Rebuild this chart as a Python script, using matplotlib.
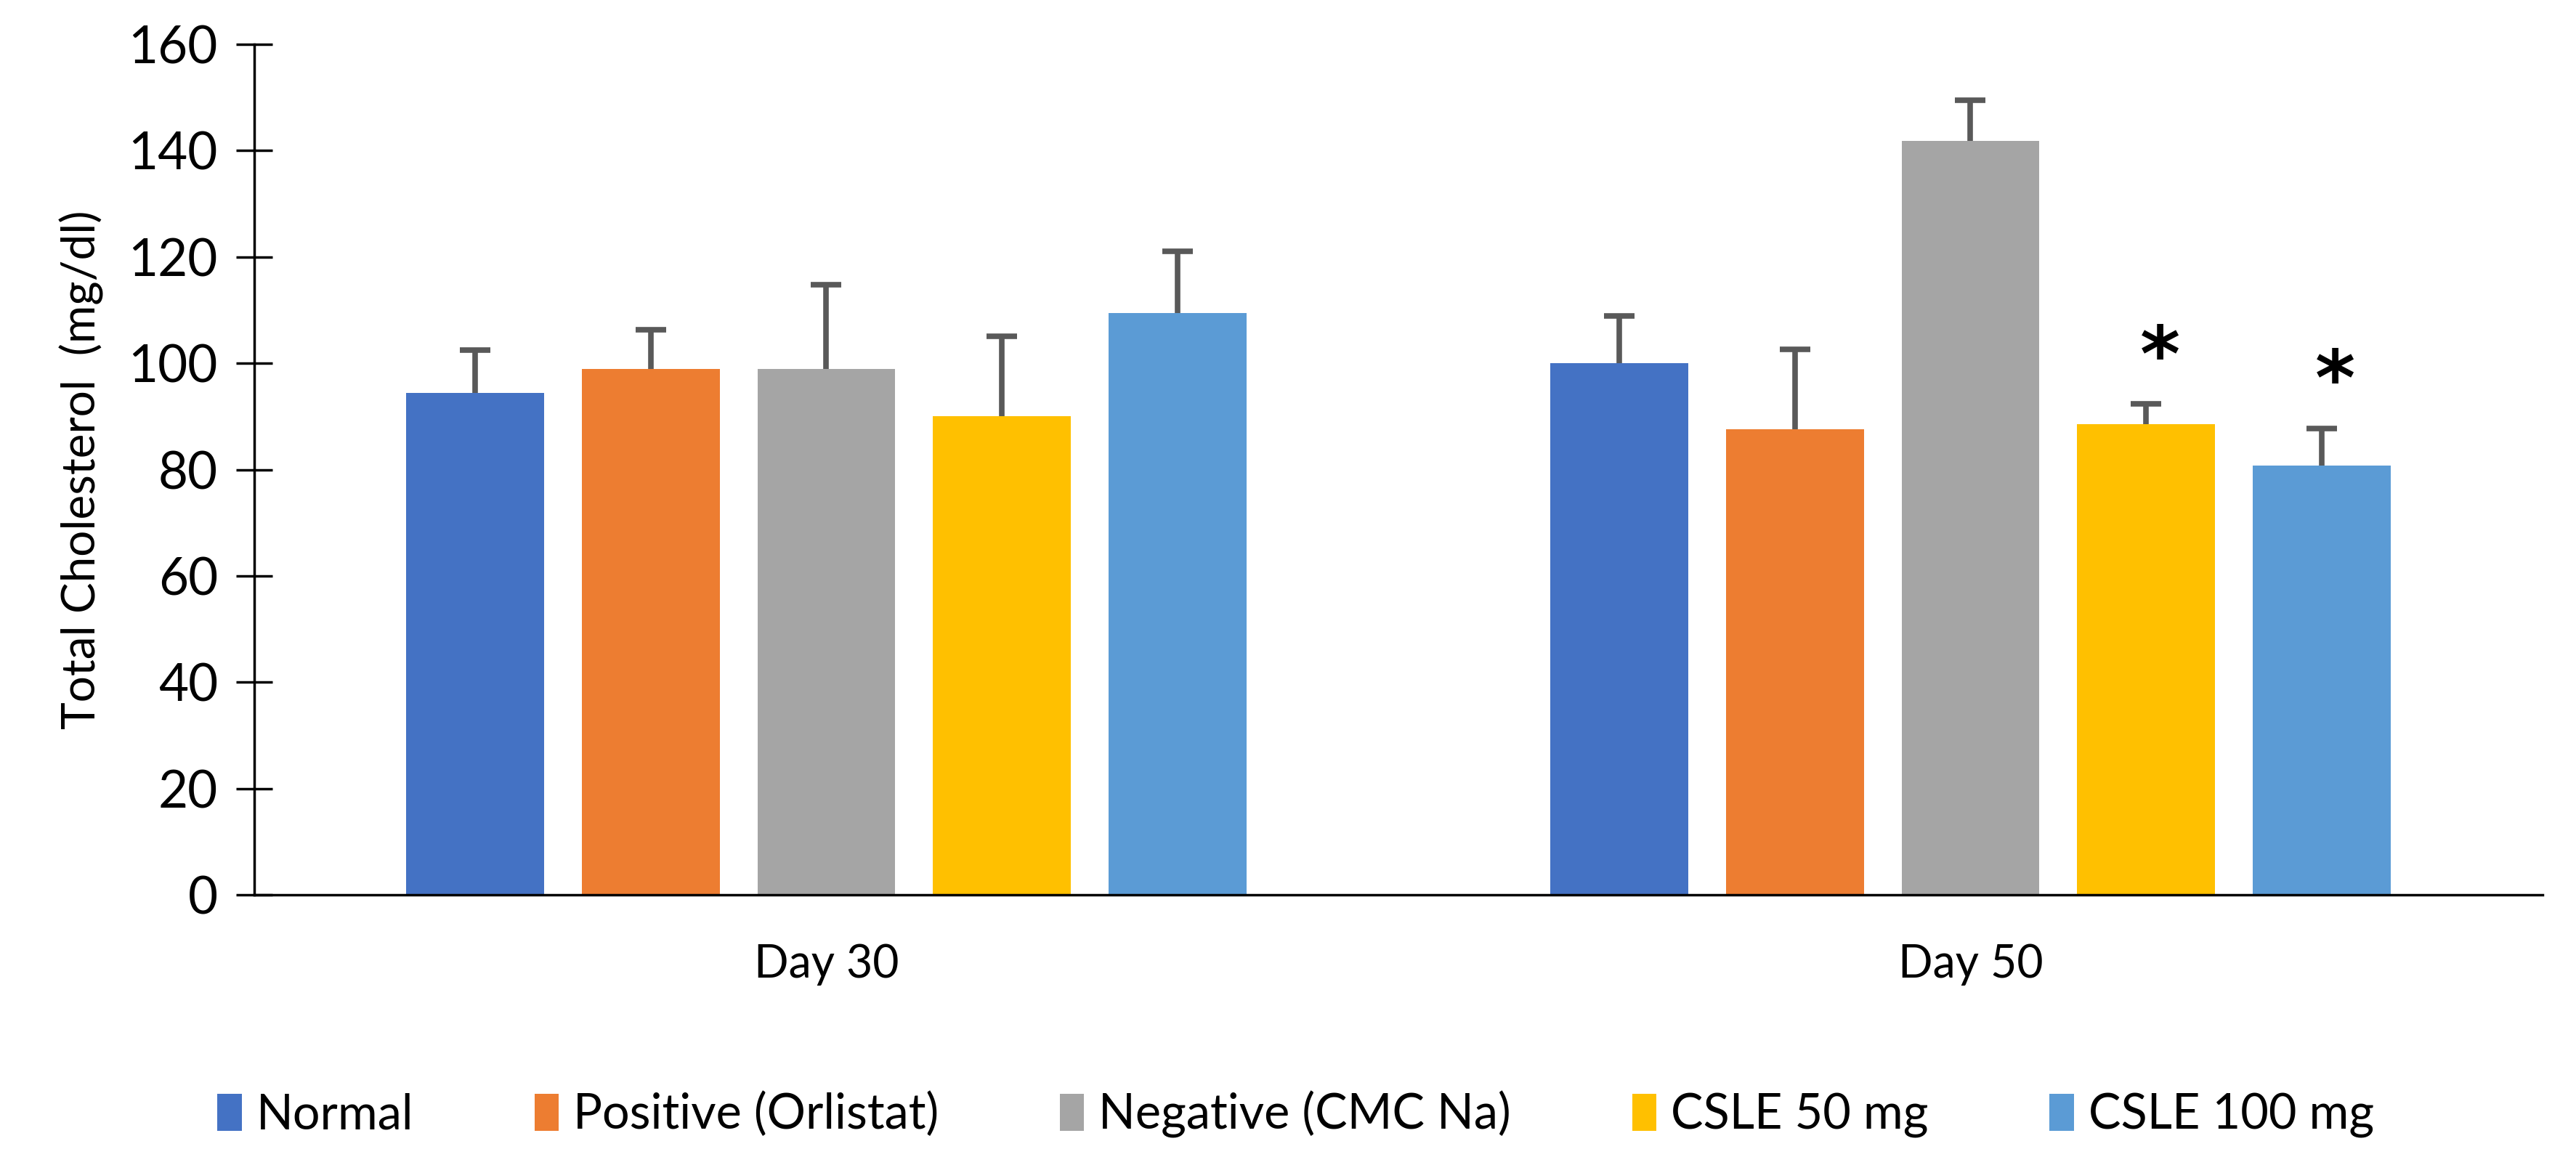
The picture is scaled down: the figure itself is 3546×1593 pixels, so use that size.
import matplotlib.pyplot as plt
import numpy as np

plt.rcParams['font.family'] = ['Lato', 'DejaVu Sans']

days = ['Day 30', 'Day 50']
groups = ['Normal', 'Positive (Orlistat)', 'Negative (CMC Na)', 'CSLE 50 mg', 'CSLE 100 mg']
colors = ['#4472C4', '#ED7D31', '#A5A5A5', '#FFC000', '#5B9BD5']

# mean values per group (Day 30, Day 50)
normal = [94.4, 100.0]
positive = [98.9, 87.6]
negative = [98.9, 141.8]
csle50 = [90.1, 88.5]
csle100 = [109.4, 80.8]

# upper error (SD)
normal_err = [8.1, 8.9]
positive_err = [7.4, 15.0]
negative_err = [15.9, 7.7]
csle50_err = [15.0, 3.8]
csle100_err = [11.7, 6.9]

# significance marks: (group index, day index)
stars = [(3, 1), (4, 1)]

means = [normal, positive, negative, csle50, csle100]
errs = [normal_err, positive_err, negative_err, csle50_err, csle100_err]

fig = plt.figure(figsize=(35.46, 15.93), dpi=100)
ax = fig.add_axes([0.0987, 0.2266, 0.8883, 0.7351])

x = np.arange(len(days))
width = 0.1205
step = 0.1535
for i, (m, e) in enumerate(zip(means, errs)):
    pos = x + (i - 2) * step
    ax.bar(pos, m, width, color=colors[i], label=groups[i], zorder=2)
    eb = ax.errorbar(pos, m, yerr=[np.zeros(len(e)), e], fmt='none', ecolor='#595959',
                     elinewidth=5.5, capsize=15, capthick=5.5, zorder=3)
    eb[1][0].set_visible(False)  # no cap at bar top

for gi, di in stars:
    px = x[di] + (gi - 2) * step + 0.012
    py = means[gi][di] + errs[gi][di] + 1.5
    ax.text(px, py, '*', ha='center', va='bottom', fontsize=76, fontweight='bold',
            family='DejaVu Sans')

ax.set_xlim(-0.5, 1.5)
ax.set_ylim(0, 160)
ax.set_yticks(np.arange(0, 161, 20))
ax.set_xticks(x)
ax.set_xticklabels(days, fontsize=45)
ax.tick_params(axis='x', length=0, pad=48)
ax.tick_params(axis='y', direction='inout', length=36, width=2.5, labelsize=51, pad=18)
for s in ['top', 'right']:
    ax.spines[s].set_visible(False)
ax.spines['left'].set_linewidth(2.5)
ax.spines['bottom'].set_linewidth(2.5)
ax.set_ylabel('Total Cholesterol  (mg/dl)', fontsize=46, labelpad=24)

fig.legend(loc='center', bbox_to_anchor=(0.503, 0.037), ncol=5, frameon=False,
           fontsize=48, handlelength=0.5, handleheight=0.8, handletextpad=0.3,
           columnspacing=2.5)

fig.savefig('out.png', dpi=100)
